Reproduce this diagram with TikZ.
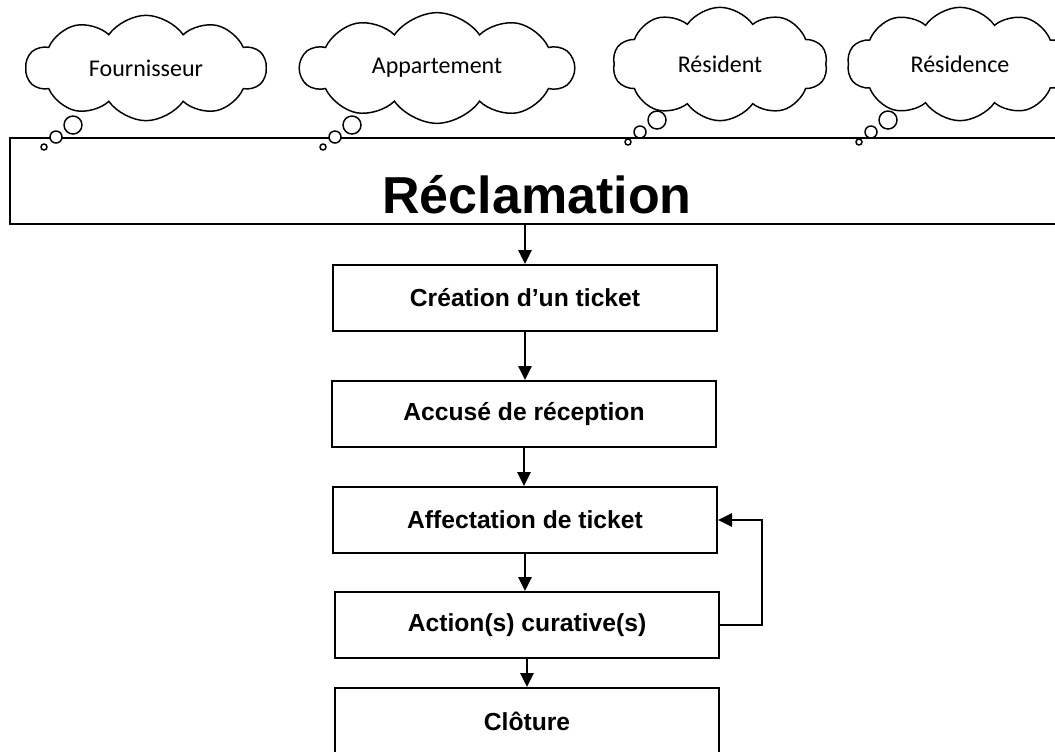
\documentclass[tikz,border=0pt]{standalone}
\usepackage{fontspec}
\setmainfont{Liberation Sans}
\newfontfamily\cloudfont{Carlito}
\usetikzlibrary{shapes.symbols,arrows.meta}

\tikzset{
  etape/.style={draw,line width=1.5pt,minimum width=288pt,minimum height=49.5pt,font=\bfseries\fontsize{18.5}{20}\selectfont},
  bulle/.style={draw,cloud,cloud puffs=10,cloud puff arc=110,cloud ignores aspect,line width=1.1pt,font=\cloudfont\fontsize{18}{20}\selectfont},
  rond/.style={draw,circle,fill=white,line width=1.1pt,inner sep=0pt},
  fleche/.style={line width=1.6pt,-{Triangle[length=10.5pt,width=10pt]}}
}

\begin{document}
\begin{tikzpicture}[x=0.75pt,y=-0.75pt]
        \useasboundingbox (0,0) rectangle (1055,751);
        \clip (0,0) rectangle (1055,751);
        \node[bulle,minimum width=180pt,minimum height=79pt] (fourn) at (146,68) {Fournisseur};
        \node[bulle,minimum width=205pt,minimum height=83pt] (appar) at (437,68) {Appartement};
        \node[bulle,minimum width=161pt,minimum height=85pt] (resid) at (720,64) {Résident};
        \node[bulle,minimum width=169pt,minimum height=85pt] (resce) at (960,64) {Résidence};
        \node[draw,line width=2pt,inner sep=0pt,minimum width=790.5pt,minimum height=64.5pt,text height=48pt,text depth=0pt,font=\bfseries\fontsize{39}{40}\selectfont] (recl) at (537,181) {Réclamation};
        \foreach \x/\y/\n in {73/125/a,352/125/b,657/120/c,888/120/d} {
            \node[rond,minimum size=13.5pt] (grand\n) at (\x,\y) {};
            \node[rond,minimum size=9pt] (moyen\n) at (\x-17,\y+12) {};
            \node[rond,minimum size=4.5pt] (petit\n) at (\x-29,\y+22) {};
        }
        \node[etape] (crea) at (525,298) {Création d’un ticket};
        \node[etape] (accu) at (524,414) {Accusé de réception};
        \node[etape] (affe) at (525,520) {Affectation de ticket};
        \node[etape] (acti) at (527,625) {Action(s) curative(s)};
        \node[etape] (clot) at (527,721) {Clôture};
        \draw[fleche] (crea.north |- recl.south) -- (crea.north);
        \draw[fleche] (crea.south) -- (crea.south |- accu.north);
        \draw[fleche] (accu.south) -- (accu.south |- affe.north);
        \draw[fleche] (affe.south) -- (affe.south |- acti.north);
        \draw[fleche] (acti.south) -- (acti.south |- clot.north);
        \draw[fleche] (acti.east) -- ++(42,0) |- (affe.east);
    \end{tikzpicture}
\end{document}
